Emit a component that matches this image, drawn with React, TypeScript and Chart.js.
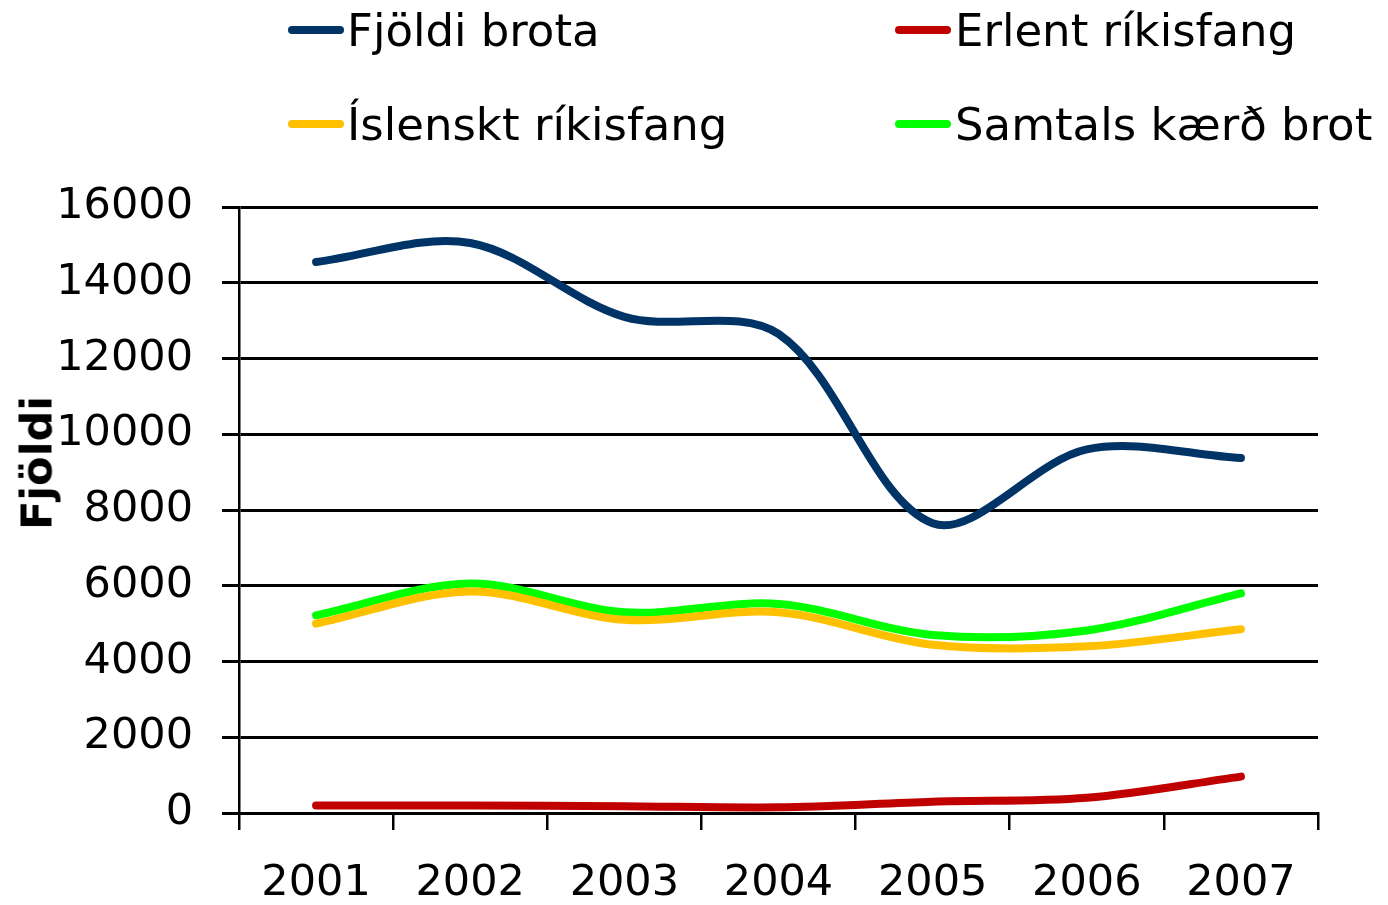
import React, { useEffect, useRef } from "react";
import { Chart, registerables } from "chart.js";

Chart.register(...registerables);

const years = ["2001", "2002", "2003", "2004", "2005", "2006", "2007"];
const seriesNames = ["Fjöldi brota", "Erlent ríkisfang", "Íslenskt ríkisfang", "Samtals kærð brot"];
const seriesColors = ["#003366", "#c00000", "#ffc000", "#00ff00"];
const fjoldiBrota = [14550, 15050, 13100, 12650, 7650, 9600, 9370];
const erlentRikisfang = [200, 200, 180, 150, 300, 400, 960];
const islensktRikisfang = [5000, 5850, 5100, 5300, 4440, 4400, 4850];
const samtalsKaerdBrot = [5220, 6060, 5300, 5520, 4700, 4820, 5800];
const yTicks = [0, 2000, 4000, 6000, 8000, 10000, 12000, 14000, 16000];
const yTitle = "Fjöldi";

const FONT = "'DejaVu Sans', Verdana, sans-serif";

export default function App() {
  const ref = useRef<HTMLCanvasElement | null>(null);

  useEffect(() => {
    if (!ref.current) return;
    const values = [fjoldiBrota, erlentRikisfang, islensktRikisfang, samtalsKaerdBrot];
    const chart = new Chart(ref.current, {
      type: "line",
      data: {
        labels: years,
        datasets: values.map((v, i) => ({
          label: seriesNames[i],
          data: v,
          borderColor: seriesColors[i],
          backgroundColor: seriesColors[i],
          borderWidth: 8,
          borderCapStyle: "round" as const,
          borderJoinStyle: "round" as const,
          pointRadius: 0,
          tension: 0.33,
          fill: false,
        })),
      },
      options: {
        animation: false,
        responsive: false,
        maintainAspectRatio: false,
        layout: { padding: { left: 0, right: 70, top: 207, bottom: 0 } },
        plugins: {
          legend: { display: false },
          tooltip: { enabled: false },
        },
        scales: {
          x: {
            type: "category",
            offset: true,
            afterFit: (s: any) => {
              s.height = 92;
            },
            grid: {
              offset: true,
              drawOnChartArea: false,
              drawTicks: true,
              tickLength: 17,
              color: "#000",
              lineWidth: 2.5,
            },
            border: { display: true, color: "#000", width: 3 },
            ticks: {
              color: "#000",
              font: { family: FONT, size: 43 },
              padding: 28,
              maxRotation: 0,
              autoSkip: false,
            },
          },
          y: {
            min: 0,
            max: 16000,
            afterFit: (s: any) => {
              s.width = 239;
            },
            afterBuildTicks: (s: any) => {
              s.ticks = yTicks.map((v) => ({ value: v }));
            },
            grid: {
              drawTicks: true,
              tickLength: 17,
              color: "#000",
              lineWidth: 3,
            },
            border: { display: true, color: "#000", width: 2.5 },
            ticks: {
              color: "#000",
              font: { family: FONT, size: 43 },
              padding: 29,
              callback: (v: any) => String(v),
            },
          },
        },
      },
    });
    return () => chart.destroy();
  }, []);

  const legendPos = [
    { mx: 288, tx: 347, my: 30, ty: 8 },
    { mx: 895, tx: 955, my: 30, ty: 8 },
    { mx: 288, tx: 347, my: 124, ty: 102 },
    { mx: 895, tx: 955, my: 124, ty: 102 },
  ];

  return (
    <div
      style={{
        position: "absolute",
        left: 0,
        top: 0,
        width: 1388,
        height: 905,
        background: "#fff",
        overflow: "hidden",
      }}
    >
      <canvas
        ref={ref}
        width={1388}
        height={905}
        style={{ position: "absolute", left: 0, top: 0, width: 1388, height: 905 }}
      />
      {seriesNames.map((name, i) => (
        <React.Fragment key={name}>
          <div
            style={{
              position: "absolute",
              left: legendPos[i].mx,
              top: legendPos[i].my - 4,
              width: 56,
              height: 8,
              borderRadius: 4,
              background: seriesColors[i],
            }}
          />
          <div
            style={{
              position: "absolute",
              left: legendPos[i].tx,
              top: legendPos[i].ty,
              fontFamily: FONT,
              fontSize: 45,
              lineHeight: "45px",
              color: "#000",
              whiteSpace: "nowrap",
            }}
          >
            {name}
          </div>
        </React.Fragment>
      ))}
      <div
        style={{
          position: "absolute",
          left: 37,
          top: 463,
          transform: "translate(-50%, -50%) rotate(-90deg)",
          fontFamily: FONT,
          fontWeight: "bold",
          fontSize: 43,
          lineHeight: "43px",
          color: "#000",
          whiteSpace: "nowrap",
        }}
      >
        {yTitle}
      </div>
    </div>
  );
}
